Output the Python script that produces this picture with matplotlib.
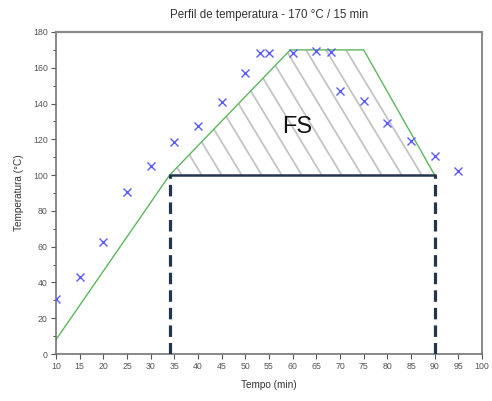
import numpy as np
import matplotlib
matplotlib.use("Agg")
import matplotlib.pyplot as plt
from matplotlib.patches import Polygon

plt.rcParams['font.family'] = ['Liberation Sans', 'DejaVu Sans']

# Measured temperature readings
tempo = [10, 15, 20, 25, 30, 35, 40, 45, 50, 53, 55, 60, 65, 68, 70, 75, 80, 85, 90, 95]
temperatura = [30.5, 43, 62.6, 90.7, 105, 118.3, 127.3, 141, 157.2, 168.4, 168.4, 168.5,
               169.5, 169, 146.8, 141.4, 128.9, 119.1, 110.9, 102.2]

# Programmed cure profile (ramp, plateau, cool-down)
perfil_t = [10, 34, 59.5, 75, 90]
perfil_T = [8, 100, 170, 170, 100]

# Cure window limits
t_inicio, t_fim, T_limite = 34, 90, 100

fig = plt.figure(figsize=(4.92, 4.01), dpi=100)
ax = fig.add_axes([0.1138, 0.1172, 0.8659, 0.8030])

navy = '#24344f'
green = '#5cb85c'

# Hatched area above the threshold (FS)
poly_xy = [(t_inicio, T_limite)] + list(zip(perfil_t[1:], perfil_T[1:]))
poly = Polygon(poly_xy, closed=True, facecolor='none', edgecolor='none')
ax.add_patch(poly)
inclinacao = 4.37
for x0 in np.arange(36.56 - 4.226 * 2, 115, 4.226):
    xs = np.array([x0 - 80 / inclinacao, x0])
    ys = T_limite + inclinacao * (x0 - xs)
    ln, = ax.plot(xs, ys, color='#c4c4c4', lw=1.3, zorder=1, solid_capstyle='butt')
    ln.set_clip_path(poly)

ax.plot(perfil_t, perfil_T, color=green, lw=1.0, zorder=2)

ax.plot([t_inicio, t_fim], [T_limite, T_limite], color=navy, lw=1.8, zorder=3)
for t in (t_inicio, t_fim):
    ax.plot([t, t], [0, T_limite], color=navy, lw=2.3, dashes=(3.6, 1.9), zorder=3)

ax.plot(tempo, temperatura, linestyle='none', marker='x', markersize=6,
        markeredgewidth=1.0, color='#5a5aff', zorder=4)

ax.text(61, 127, 'FS', fontsize=17, ha='center', va='center', color='#111111')

ax.set_xlim(10, 100)
ax.set_ylim(0, 180)
ax.set_xticks(np.arange(10, 101, 5))
ax.set_yticks(np.arange(0, 181, 20))
ax.set_yticks(np.arange(10, 180, 20), minor=True)

for s in ax.spines.values():
    s.set_color('#6a6a6a')
    s.set_linewidth(1.1)
ax.spines['top'].set_linewidth(1.6)
ax.spines['top'].set_color('#8a8a8a')

ax.tick_params(axis='both', which='major', direction='out', length=3.5, width=0.8,
               color='#555555', labelsize=6.3, labelcolor='#555555', pad=2.5)
ax.tick_params(axis='y', which='minor', direction='out', length=2, width=0.7, color='#555555')

ax.set_xlabel('Tempo (min)', fontsize=7.2, color='#333333', labelpad=6)
ax.set_ylabel('Temperatura (°C)', fontsize=7.2, color='#333333', labelpad=6)
ax.set_title('Perfil de temperatura - 170 °C / 15 min', fontsize=8.3, color='#333333', pad=10)

fig.savefig('out.png', dpi=100)
